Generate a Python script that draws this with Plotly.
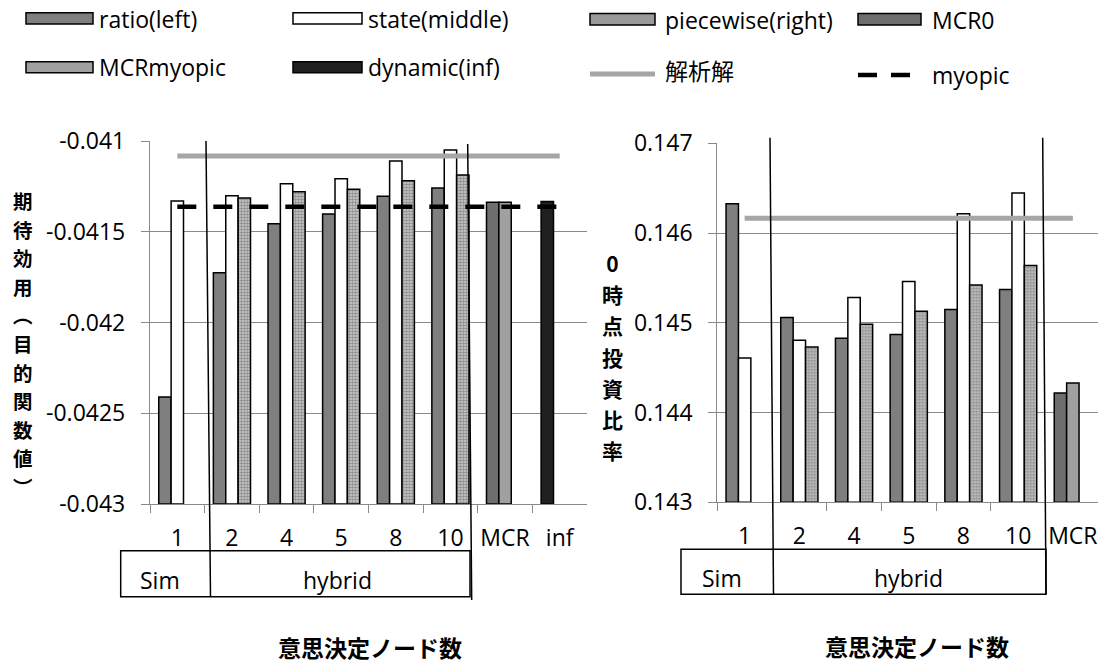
import plotly.graph_objects as go

W, H = 1098, 666

# ---------------- data ----------------
cats_left = ["1", "2", "4", "5", "8", "10", "MCR", "inf"]
cats_right = ["1", "2", "4", "5", "8", "10", "MCR"]
node_cats = ["1", "2", "4", "5", "8", "10"]
node_cats_pw = ["2", "4", "5", "8", "10"]
mcr_cat = ["MCR"]
inf_cat = ["inf"]

# left panel: expected utility (objective value)
ratio_left = [-0.04241, -0.041726, -0.041456, -0.041402, -0.041305, -0.041259]
state_left = [-0.041331, -0.041301, -0.041235, -0.041208, -0.041110, -0.041050]
piecewise_left = [-0.041314, -0.041279, -0.041266, -0.041219, -0.041187]
mcr0_left = [-0.041338]
mcrmyopic_left = [-0.041338]
dynamic_left = [-0.041334]
analytic_left = [-0.041083, -0.041083, -0.041083, -0.041083, -0.041083, -0.041083, -0.041083, -0.041083]
myopic_left = [-0.041362, -0.041362, -0.041362, -0.041362, -0.041362, -0.041362, -0.041362, -0.041362]

# right panel: time-0 investment ratio
ratio_right = [0.146326, 0.145058, 0.144828, 0.144869, 0.145147, 0.145370]
state_right = [0.144609, 0.144806, 0.145281, 0.145459, 0.146214, 0.146445]
piecewise_right = [0.144731, 0.144984, 0.145129, 0.145422, 0.145638]
mcr0_right = [0.144219]
mcrmyopic_right = [0.144330]
analytic_right = [0.146166, 0.146166, 0.146166, 0.146166, 0.146166, 0.146166, 0.146166]

left_ticks = [-0.043, -0.0425, -0.042, -0.0415, -0.041]
left_ticktext = ["-0.043", "-0.0425", "-0.042", "-0.0415", "-0.041"]
right_ticks = [0.143, 0.144, 0.145, 0.146, 0.147]
right_ticktext = ["0.143", "0.144", "0.145", "0.146", "0.147"]

BASE_L = -0.043
BASE_R = 0.143

# ---------------- styles ----------------
C_RATIO = "#7f7f7f"
C_STATE = "#ffffff"
C_MCR0 = "#6e6e6e"
C_MCRM = "#a0a0a0"
C_DYN = "#202020"
C_ANA = "#a6a6a6"
GRID = "#8a8a8a"
FONT = "Open Sans"
CJK = "Noto Sans CJK JP"
PW_PATTERN = dict(shape=".", size=3, solidity=0.6, fgcolor="#4a4a4a", bgcolor="#d0d0d0")


def px(x):
    return x / W


def py(y):
    return 1 - y / H


fig = go.Figure()


def add_bars(x, vals, base, xa, ya, color, group, pattern=None):
    marker = dict(color=color, line=dict(color="black", width=1.5))
    if pattern is not None:
        marker["pattern"] = pattern
    fig.add_trace(go.Bar(
        x=x, y=[v - base for v in vals], base=base,
        xaxis=xa, yaxis=ya, marker=marker, offsetgroup=group,
        showlegend=False, hoverinfo="skip",
    ))


# left panel
add_bars(node_cats, ratio_left, BASE_L, "x", "y", C_RATIO, "a")
add_bars(node_cats, state_left, BASE_L, "x", "y", C_STATE, "b")
add_bars(node_cats_pw, piecewise_left, BASE_L, "x", "y", "#c4c4c4", "c", PW_PATTERN)
add_bars(mcr_cat, mcr0_left, BASE_L, "x", "y", C_MCR0, "a")
add_bars(mcr_cat, mcrmyopic_left, BASE_L, "x", "y", C_MCRM, "b")
add_bars(inf_cat, dynamic_left, BASE_L, "x", "y", C_DYN, "a")

fig.add_trace(go.Scatter(x=cats_left, y=analytic_left, mode="lines", xaxis="x", yaxis="y",
                         line=dict(color=C_ANA, width=5), showlegend=False, hoverinfo="skip"))
fig.add_trace(go.Scatter(x=cats_left, y=myopic_left, mode="lines", xaxis="x", yaxis="y",
                         line=dict(color="black", width=4.5, dash="19px,17px"),
                         showlegend=False, hoverinfo="skip"))

# right panel
add_bars(node_cats, ratio_right, BASE_R, "x2", "y2", C_RATIO, "a")
add_bars(node_cats, state_right, BASE_R, "x2", "y2", C_STATE, "b")
add_bars(node_cats_pw, piecewise_right, BASE_R, "x2", "y2", "#c4c4c4", "c", PW_PATTERN)
add_bars(mcr_cat, mcr0_right, BASE_R, "x2", "y2", C_MCR0, "a")
add_bars(mcr_cat, mcrmyopic_right, BASE_R, "x2", "y2", C_MCRM, "b")

fig.add_trace(go.Scatter(x=cats_right, y=analytic_right, mode="lines", xaxis="x2", yaxis="y2",
                         line=dict(color=C_ANA, width=5), showlegend=False, hoverinfo="skip"))

tickfont = dict(family=FONT, size=23, color="black")

xcommon = dict(type="category", tickson="boundaries", ticks="outside", ticklen=8,
               tickcolor=GRID, tickwidth=1.3, showline=True, linecolor=GRID, linewidth=1.3,
               showgrid=False, zeroline=False, tickfont=tickfont, ticklabelstandoff=13,
               tickangle=0, fixedrange=True)
ycommon = dict(ticks="outside", ticklen=8, tickcolor=GRID, tickwidth=1.3,
               showline=True, linecolor=GRID, linewidth=1.3, showgrid=True,
               gridcolor=GRID, gridwidth=1.3, zeroline=False, tickfont=tickfont,
               ticklabelstandoff=11, fixedrange=True)

fig.update_layout(
    width=W, height=H,
    margin=dict(l=0, r=0, t=0, b=0, autoexpand=False),
    paper_bgcolor="white", plot_bgcolor="white",
    barmode="group", bargap=0.32, bargroupgap=0,
    showlegend=False,
    xaxis=dict(domain=[px(150), px(587)], anchor="y", range=[-0.5, 7.5],
               categoryorder="array", categoryarray=cats_left, **xcommon),
    yaxis=dict(domain=[py(504), py(141)], anchor="x", range=[-0.043, -0.041],
               tickvals=left_ticks, ticktext=left_ticktext, **ycommon),
    xaxis2=dict(domain=[px(717.3), 1], anchor="y2", range=[-0.5, 6.46],
                categoryorder="array", categoryarray=cats_right, **xcommon),
    yaxis2=dict(domain=[py(502.3), py(143.3)], anchor="x2", range=[0.143, 0.147],
                tickvals=right_ticks, ticktext=right_ticktext, **ycommon),
)

shapes = []
annotations = []


def line(x0, y0, x1, y1, color="black", width=1.5, dash=None):
    d = dict(type="line", xref="paper", yref="paper", x0=px(x0), y0=py(y0), x1=px(x1), y1=py(y1),
             line=dict(color=color, width=width))
    if dash:
        d["line"]["dash"] = dash
    shapes.append(d)


def rect(x0, y0, x1, y1, fill, width=1.5):
    shapes.append(dict(type="rect", xref="paper", yref="paper", x0=px(x0), y0=py(y0),
                       x1=px(x1), y1=py(y1), fillcolor=fill, line=dict(color="black", width=width)))


def text(x, y, s, size=23, xanchor="left", bold=False, family=FONT):
    annotations.append(dict(xref="paper", yref="paper", x=px(x), y=py(y), text=s,
                            showarrow=False, xanchor=xanchor, yanchor="middle",
                            font=dict(family=family, size=size, color="black",
                                      weight="bold" if bold else "normal")))


def vertical(label, inner):
    return "<br>".join("<span style='font-size:%gpx'>%s</span>" % (inner, ch) for ch in label)


# group separators and Sim / hybrid boxes
line(206, 141, 210.5, 597)
line(467.7, 144, 471.7, 600)
rect(120.7, 550.7, 470, 596.7, "rgba(0,0,0,0)")
text(160, 580, "Sim", xanchor="center")
text(337, 580, "hybrid", xanchor="center")

line(770, 137.7, 773.5, 594.3)
line(1042.7, 137.7, 1046, 594.3)
rect(681, 549.3, 1046, 594.3, "rgba(0,0,0,0)")
text(722, 578, "Sim", xanchor="center")
text(908, 578, "hybrid", xanchor="center")

# axis titles
text(370, 647, "意思決定ノード数", size=23, xanchor="center", bold=True, family=CJK)
text(917, 646, "意思決定ノード数", size=23, xanchor="center", bold=True, family=CJK)
text(22.5, 343, vertical("期待効用︵目的関数値︶", 19.5), size=22, xanchor="center",
     bold=True, family=CJK)
text(612, 356, vertical("0時点投資比率", 21), size=24, xanchor="center",
     bold=True, family=CJK)

# legend (manual)
rect(26, 12.7, 93, 24, C_RATIO)
text(97, 18.5, "ratio(left)")
rect(293, 12.7, 362, 24, C_STATE)
text(366, 18.5, "state(middle)")
rect(590, 13.5, 655, 25, "#9a9a9a")
text(663, 20, "piecewise(right)")
rect(858, 13.5, 921, 25, C_MCR0)
text(930, 20, "MCR0")

rect(26, 61.7, 93, 72.7, C_MCRM)
text(97, 67, "MCRmyopic")
rect(293, 61.7, 362, 72.7, C_DYN)
text(366, 67, "dynamic(inf)")
line(590, 74, 655, 74, color=C_ANA, width=5)
text(663, 70, "解析解", family=CJK)
line(858, 75, 910, 75, color="black", width=4.5, dash="19px,14px")
text(930, 75, "myopic")

fig.update_layout(shapes=shapes, annotations=annotations)

fig.write_html("out.html")
